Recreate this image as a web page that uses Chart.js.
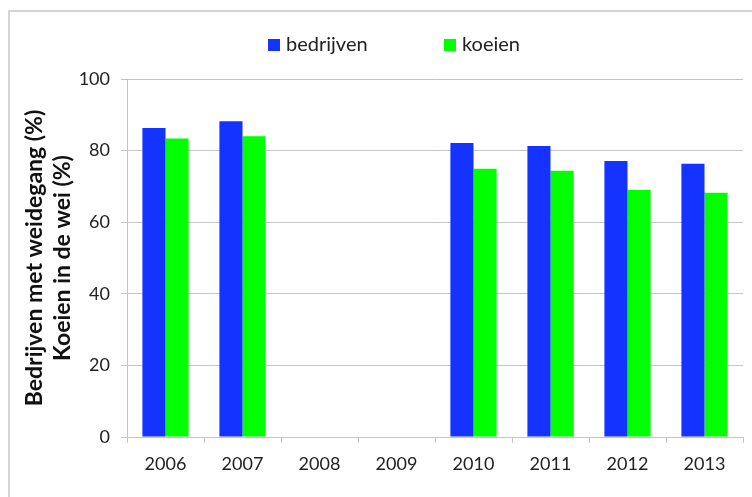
<!DOCTYPE html>
<html>
<head>
<meta charset="utf-8">
<script src="https://cdn.jsdelivr.net/npm/chart.js@4"></script>
<style>
  html, body { margin: 0; padding: 0; background: #fff; }
  #wrap { width: 752px; height: 497px; }
</style>
</head>
<body>
<div id="wrap"><canvas id="c" width="752" height="497"></canvas></div>
<script>
// data
const years = ['2006', '2007', '2008', '2009', '2010', '2011', '2012', '2013'];
const bedrijven = [86.3, 88.2, null, null, 82.1, 81.3, 77.1, 76.3];
const koeien = [83.4, 84.0, null, null, 74.9, 74.4, 69.0, 68.2];
const yTicks = [0, 20, 40, 60, 80, 100];

const FONT = 'Lato, "Open Sans", sans-serif';
const GRID = '#c4c4c4';

// border round the chart + own legend
const frame = {
  id: 'frame',
  afterDraw(chart) {
    const ctx = chart.ctx;
    ctx.save();
    ctx.strokeStyle = '#c8c8c8';
    ctx.lineWidth = 1.5;
    ctx.beginPath();
    ctx.moveTo(9, 497);
    ctx.lineTo(9, 11);
    ctx.lineTo(752, 11);
    ctx.stroke();

    // legend
    let x = 268;
    const y = 45;
    ctx.font = '20px ' + FONT;
    ctx.textBaseline = 'middle';
    chart.data.datasets.forEach(ds => {
      ctx.fillStyle = ds.backgroundColor;
      ctx.fillRect(x, y - 6, 12, 12);
      ctx.fillStyle = '#222';
      ctx.fillText(ds.label, x + 18, y);
      x += 176;
    });
    ctx.restore();
  }
};

new Chart(document.getElementById('c'), {
  type: 'bar',
  data: {
    labels: years,
    datasets: [
      { label: 'bedrijven', data: bedrijven, backgroundColor: '#1533FF' },
      { label: 'koeien', data: koeien, backgroundColor: '#00FF00' }
    ]
  },
  options: {
    responsive: false,
    animation: false,
    layout: { padding: { top: 79, right: 9, left: 0, bottom: 0 } },
    datasets: { bar: { categoryPercentage: 0.6, barPercentage: 1.0 } },
    plugins: { legend: { display: false }, tooltip: { enabled: false } },
    scales: {
      x: {
        afterFit(scale) { scale.height = 60; },
        grid: { drawOnChartArea: false, drawTicks: true, tickLength: 6, color: GRID },
        border: { display: true, color: GRID },
        ticks: { color: '#222', font: { family: FONT, size: 18 }, padding: 10 }
      },
      y: {
        min: 0,
        max: 100,
        afterFit(scale) { scale.width = 127; },
        afterBuildTicks(scale) { scale.ticks = yTicks.map(v => ({ value: v })); },
        grid: { color: GRID, tickLength: 6 },
        border: { display: true, color: GRID },
        ticks: { color: '#222', font: { family: FONT, size: 18 }, padding: 11 },
        title: {
          display: true,
          text: ['Bedrijven met weidegang (%)', 'Koeien in de wei (%)'],
          color: '#111',
          font: { family: FONT, size: 23, weight: 'bold' },
          padding: { top: 21, bottom: 0 }
        }
      }
    }
  },
  plugins: [frame]
});
</script>
</body>
</html>
